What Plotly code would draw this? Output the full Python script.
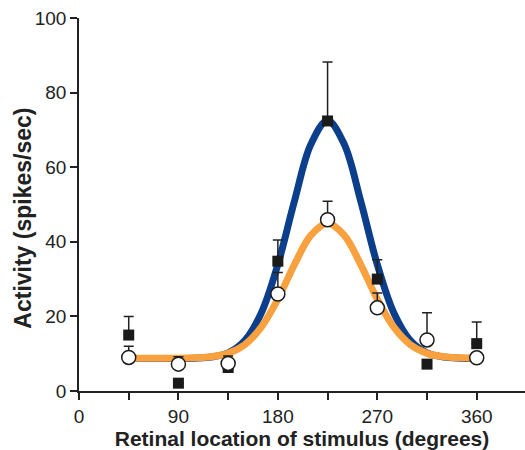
import plotly.graph_objects as go

# Measured data (degrees)
x_pts = [45, 90, 135, 180, 225, 270, 315, 360]
sq_vals = [15.0, 2.1, 6.3, 34.8, 72.4, 30.0, 7.2, 12.7]
sq_err = [5.0, 0.0, 0.0, 5.7, 15.8, 5.2, 0.0, 5.8]
circ_vals = [9.0, 7.2, 7.4, 26.0, 45.9, 22.3, 13.7, 8.9]
circ_err = [3.0, 2.0, 2.0, 5.8, 5.0, 4.0, 7.3, 0.0]

# Fitted curves
curve_x = [45, 60, 75, 90, 105, 120, 135, 150, 165, 180, 195, 210, 225,
           240, 255, 270, 285, 300, 315, 330, 345, 360]
blue_y = [8.7, 8.7, 8.7, 8.7, 8.8, 9.1, 10.2, 13.5, 20.9, 33.9, 50.9, 66.2, 72.5,
          66.2, 50.9, 33.9, 20.9, 13.5, 10.2, 9.1, 8.8, 8.7]
orange_y = [8.8, 8.8, 8.8, 8.8, 8.9, 9.2, 10.1, 12.4, 17.1, 24.6, 33.9, 41.8, 45.0,
            41.8, 33.9, 24.6, 17.1, 12.4, 10.1, 9.2, 8.9, 8.8]

x_ticks = [0, 45, 90, 135, 180, 225, 270, 315, 360]
x_ticktext = ["0", "", "90", "", "180", "", "270", "", "360"]
y_ticks = [0, 20, 40, 60, 80, 100]

fig = go.Figure()
fig.add_trace(go.Scatter(x=curve_x, y=blue_y, mode="lines", line=dict(color="#0b3f8c", width=7, shape="spline"),
                         hoverinfo="skip", showlegend=False))
fig.add_trace(go.Scatter(x=curve_x, y=orange_y, mode="lines", line=dict(color="#f9a03f", width=7, shape="spline"),
                         hoverinfo="skip", showlegend=False))
fig.add_trace(go.Scatter(x=x_pts, y=sq_vals, mode="markers",
                         marker=dict(symbol="square", size=11, color="#1a1a1a", line=dict(color="#1a1a1a", width=0)),
                         error_y=dict(type="data", symmetric=False, array=sq_err, arrayminus=[0]*len(sq_err),
                                      color="#222", thickness=1.5, width=5),
                         showlegend=False, cliponaxis=False))
fig.add_trace(go.Scatter(x=x_pts, y=circ_vals, mode="markers",
                         marker=dict(symbol="circle", size=14, color="white", line=dict(color="#1a1a1a", width=1.5)),
                         error_y=dict(type="data", symmetric=False, array=circ_err, arrayminus=[0]*len(circ_err),
                                      color="#222", thickness=1.5, width=5),
                         showlegend=False, cliponaxis=False))

font_fam = "Liberation Sans, Arial, sans-serif"
fig.update_layout(
    width=525, height=450,
    margin=dict(l=79, r=0, t=18, b=59),
    paper_bgcolor="white", plot_bgcolor="white",
    font=dict(family=font_fam, color="#222", size=19),
    xaxis=dict(range=[0, 403.7], tickvals=x_ticks, ticktext=x_ticktext, ticks="outside", ticklen=7,
               tickwidth=1.5, tickcolor="#222", showline=True, linecolor="#222", linewidth=1.5,
               showgrid=False, zeroline=False, tickfont=dict(size=19),
               title=dict(text="<b>Retinal location of stimulus (degrees)</b>", font=dict(size=21), standoff=2)),
    yaxis=dict(range=[0, 100], tickvals=y_ticks, ticks="outside", ticklen=7, tickwidth=1.5, tickcolor="#222",
               showline=True, linecolor="#222", linewidth=1.5, showgrid=False, zeroline=False,
               tickfont=dict(size=19)),
    annotations=[dict(text="<b>Activity (spikes/sec)</b>", textangle=-90, xref="paper", yref="paper",
                      x=0, y=0.462, xshift=-56, xanchor="center", yanchor="middle", showarrow=False,
                      font=dict(size=23, color="#222"))],
)
fig.write_html("out.html")
